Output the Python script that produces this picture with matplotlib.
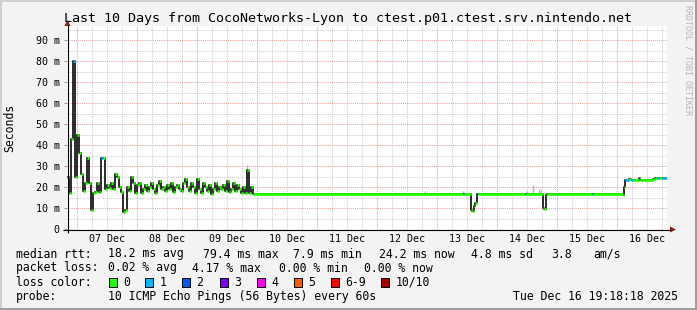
import numpy as np
import matplotlib
matplotlib.use("Agg")
import matplotlib.pyplot as plt
from matplotlib.collections import LineCollection
from matplotlib.patches import Rectangle, Polygon

# ---------------- data ----------------
title = "Last 10 Days from CocoNetworks-Lyon to ctest.p01.ctest.srv.nintendo.net"
total_hours = 240
early_step_h = 0.8  # sampling interval of the first (noisy) part, hours

early_rtt = [25, 17, 43, 80, 25, 45, 36, 26, 18, 22,
             34, 22, 9, 17, 17.5, 22, 17.5, 34, 34, 19,
             21, 19.5, 22, 19, 26, 25, 20, 17.5, 8, 9,
             20, 18, 25, 22, 17, 21, 22, 17,
             19, 21, 18, 20, 22, 19, 17, 21, 23, 19,
             20, 18, 21, 19, 22, 17.5, 20, 21, 19, 18,
             22, 24, 20, 18, 22, 20, 17, 24, 19, 17,
             22, 20, 18, 21, 16.5, 19, 22, 18, 20, 19,
             21, 18, 23, 17.5, 19, 22, 18, 21, 19, 17,
             20, 17, 28, 17, 20]
early_loss_one = [3, 17]  # sample indices with 1 lost ping

late_hours = [74.4, 158.2, 158.6, 161.6, 162.0, 162.4, 162.8, 163.2, 163.8, 164.4,
              183.2, 183.6, 190.4, 190.8, 191.4, 192.0, 209.8, 210.2, 222.2, 222.6,
              223.0, 224.8, 225.6, 226.4, 228.8, 229.2, 234.4, 235.2, 236.0, 236.8,
              238.0]
late_rtt = [16.6, 16.6, 16.6, 9.0, 8.6, 8.8, 11.0, 12.5, 16.6, 16.6,
            16.6, 16.6, 10.0, 9.6, 16.0, 16.6, 16.6, 16.6, 16.0, 20.0,
            23.5, 24.0, 23.5, 23.5, 24.4, 23.5, 23.8, 24.4, 24.4, 24.4,
            24.4]
late_loss = [0, 1, 0, 0, 0, 0, 0, 0, 1, 0,
             1, 0, 0, 0, 0, 0, 1, 0, 0, 0,
             1, 0, 1, 0, 0, 0, 0, 0, 1, 0,
             1]

smoke_hours = [72.0, 143.2, 158.4, 184.0, 186.2, 188.8, 189.4]
smoke_low = [28, 16.6, 16.6, 16.6, 16.6, 16.6, 16.6]
smoke_high = [30.5, 18, 18, 18, 20.8, 19, 18.5]

day_labels = ["07 Dec", "08 Dec", "09 Dec", "10 Dec", "11 Dec",
              "12 Dec", "13 Dec", "14 Dec", "15 Dec", "16 Dec"]
y_ticks = [0, 10, 20, 30, 40, 50, 60, 70, 80, 90]
y_ticklabels = ["0", "10 m", "20 m", "30 m", "40 m", "50 m", "60 m", "70 m", "80 m", "90 m"]

loss_names = ["0", "1", "2", "3", "4", "5", "6-9", "10/10"]
loss_colors = ["#26FF00", "#00B8FF", "#0059FF", "#7E00FF", "#FF00EA", "#FF5E00", "#FF0000", "#A10000"]

stats_rtt = ["18.2 ms avg", "79.4 ms max", "7.9 ms min", "24.2 ms now", "4.8 ms sd", "3.8", "am/s"]
stats_loss = ["0.02 % avg", "4.17 % max", "0.00 % min", "0.00 % now"]
probe_text = "10 ICMP Echo Pings (56 Bytes) every 60s"
stamp_text = "Tue Dec 16 19:18:18 2025"

# ---------------- figure ----------------
MONO = "DejaVu Sans Mono"
W, H = 697, 310
fig = plt.figure(figsize=(W / 100, H / 100), dpi=100)
fig.patch.set_facecolor("#F3F3F3")

ax = fig.add_axes([67 / W, 81 / H, 600 / W, 203 / H])
ax.set_facecolor("white")
ax.set_xlim(0, total_hours)
ax.set_ylim(0, 96.7)
for s in ax.spines.values():
    s.set_visible(False)

MAJ = "#E9A3A3"
MIN = "#CDCDCD"
dot = (0, (1, 1))
# vertical grid: 6-hour minor, daily major
for h in np.arange(4, total_hours, 6):
    is_major = (h - 4) % 24 == 0
    ax.axvline(h, color=MAJ if is_major else MIN, lw=0.75, ls=dot, zorder=0.5)
for v in np.arange(5, 96, 5):
    is_major = v % 10 == 0
    ax.axhline(v, color=MAJ if is_major else MIN, lw=0.75, ls=dot, zorder=0.5)

ax.set_yticks(y_ticks)
ax.set_yticklabels(y_ticklabels, fontfamily=MONO, fontsize=7.2)
ax.tick_params(axis="y", length=2.2, width=0.72, color="#999999", pad=3.2)
ax.set_xticks([16 + 24 * k for k in range(len(day_labels))])
ax.set_xticklabels(day_labels, fontfamily=MONO, fontsize=7.2)
ax.tick_params(axis="x", length=0, pad=3.5)

# data
n_early = len(early_rtt)
times = np.concatenate([np.arange(n_early) * early_step_h, late_hours])
rtt = np.concatenate([early_rtt, late_rtt])
loss = np.concatenate([[1 if i in early_loss_one else 0 for i in range(n_early)], late_loss]).astype(int)
ends = np.append(times[1:], total_hours)

ax.vlines(smoke_hours, smoke_low, smoke_high, color="#B4B4B4", lw=1.0, zorder=2)
ax.step(np.append(times, total_hours), np.append(rtt, rtt[-1]), where="post",
        color="#111111", lw=1.25, zorder=3)
segs = [[(t0, v), (t1, v)] for t0, t1, v in zip(times, ends, rtt)]
lc = LineCollection(segs, colors=[loss_colors[l] for l in loss], linewidths=2.0,
                    capstyle="butt", zorder=4)
ax.add_collection(lc)

# ---------------- overlay in pixel coordinates ----------------
ov = fig.add_axes([0, 0, 1, 1], zorder=10)
ov.set_xlim(0, W)
ov.set_ylim(H, 0)
ov.axis("off")
ov.patch.set_alpha(0)

# frame
ov.add_patch(Rectangle((0, 0), W, 2, color="#CFCFCF", lw=0))
ov.add_patch(Rectangle((0, 0), 2, H, color="#CFCFCF", lw=0))
ov.add_patch(Rectangle((W - 2, 0), 2, H, color="#9E9E9E", lw=0))
ov.add_patch(Rectangle((0, H - 2), W, 2, color="#9E9E9E", lw=0))

# axes with arrows
ov.plot([63, 671], [229.5, 229.5], color="black", lw=0.8, solid_capstyle="butt")
ov.plot([67.5, 67.5], [233, 25], color="black", lw=0.8, solid_capstyle="butt")
ov.add_patch(Polygon([(670, 226.5), (676, 229.5), (670, 232.5)], closed=True, color="#8B1A1A", lw=0))
ov.add_patch(Polygon([(64.5, 26), (67.5, 20), (70.5, 26)], closed=True, color="#8B1A1A", lw=0))

ov.text(W / 2, 18.5, title, ha="center", va="center", fontsize=9.6, family=MONO)
ov.text(10, 128, "Seconds", rotation=90, ha="center", va="center", fontsize=8.3, family=MONO)
ov.text(688, 60, "RRDTOOL / TOBI OETIKER", rotation=270, ha="center", va="center",
        fontsize=6, family=MONO, color="#B5B5B5")

FS = 8.3
rows = [254, 268, 282, 296.5]
ov.text(16, rows[0], "median rtt:", va="center", fontsize=FS, family=MONO)
for s, x in zip(stats_rtt, [108, 203, 293, 379, 471, 551, 593]):
    ov.text(x, rows[0], s, va="center", fontsize=FS, family=MONO)
ov.text(16, rows[1], "packet loss:", va="center", fontsize=FS, family=MONO)
for s, x in zip(stats_loss, [108, 192.5, 279, 364.5]):
    ov.text(x, rows[1], s, va="center", fontsize=FS, family=MONO)
ov.text(16, rows[2], "loss color:", va="center", fontsize=FS, family=MONO)
box_x = [108.5, 145, 182, 219.5, 256.5, 293.5, 330.5, 381]
for name, col, x in zip(loss_names, loss_colors, box_x):
    ov.add_patch(Rectangle((x, rows[2] - 4.5), 8, 9, facecolor=col, edgecolor="black", lw=0.7))
    ov.text(x + 14.5, rows[2], name, va="center", fontsize=FS, family=MONO)
ov.text(16, rows[3], "probe:", va="center", fontsize=FS, family=MONO)
ov.text(108, rows[3], probe_text, va="center", fontsize=FS, family=MONO)
ov.text(513, rows[3], stamp_text, va="center", fontsize=FS, family=MONO)

fig.savefig("out.png", dpi=100, facecolor=fig.get_facecolor())
